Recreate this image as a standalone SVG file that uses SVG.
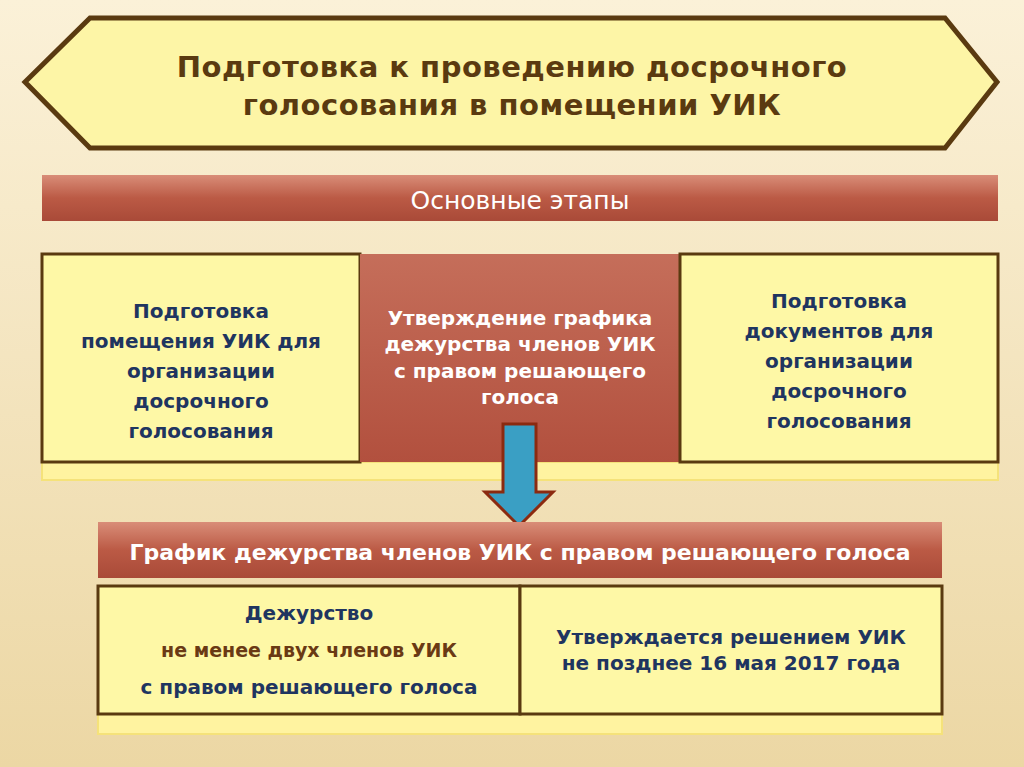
<svg xmlns="http://www.w3.org/2000/svg" width="1024" height="767" viewBox="0 0 1024 767">
<defs>
<linearGradient id="bg" x1="0" y1="0" x2="0" y2="1"><stop offset="0" stop-color="#fbf1d8"/><stop offset="1" stop-color="#ecd7a4"/></linearGradient>
<linearGradient id="red" x1="0" y1="0" x2="0" y2="1"><stop offset="0" stop-color="#d98d78"/><stop offset="0.5" stop-color="#bb5a45"/><stop offset="1" stop-color="#a94a38"/></linearGradient>
<linearGradient id="redv" x1="0" y1="0" x2="0" y2="1"><stop offset="0" stop-color="#c56e5a"/><stop offset="1" stop-color="#b2503e"/></linearGradient>
</defs>
<style>
.box{fill:#fef8a6;stroke:#5a3a10;stroke-width:3}
.strip{fill:#fff3a0;stroke:#f5e27a;stroke-width:2}
.t{font-family:"DejaVu Sans","Open Sans",sans-serif;font-weight:bold;text-anchor:middle}
.n{font-family:"DejaVu Sans","Open Sans",sans-serif;font-weight:normal;text-anchor:middle}
.blue{fill:#1f3560;font-size:20px}
.wh{fill:#ffffff}
</style>
<rect width="1024" height="767" fill="url(#bg)"/>
<g id="title">
<polygon points="25,82 90,18 945,18 997,82 945,148 90,148" fill="#fdf5a6" stroke="#5a3a10" stroke-width="5"/>
<text class="t" x="512" y="77" font-size="29" fill="#5a3a10" letter-spacing="0.5">Подготовка  к проведению досрочного</text>
<text class="t" x="512" y="115" font-size="29" fill="#5a3a10" letter-spacing="0.5">голосования в помещении УИК</text>
</g>
<g id="stages">
<rect x="42" y="175" width="956" height="46" fill="url(#red)"/>
<text class="n wh" x="520" y="209" font-size="25">Основные этапы</text>
</g>
<rect class="strip" x="42" y="462" width="956" height="18"/>
<g id="box1">
<rect class="box" x="42" y="254" width="318" height="208"/>
<text class="t blue" x="201" y="318">Подготовка</text>
<text class="t blue" x="201" y="348">помещения УИК для</text>
<text class="t blue" x="201" y="378">организации</text>
<text class="t blue" x="201" y="408">досрочного</text>
<text class="t blue" x="201" y="438">голосования</text>
</g>
<g id="box2">
<rect x="360" y="254" width="320" height="208" fill="url(#redv)"/>
<text class="t wh" x="520" y="325" font-size="20">Утверждение графика</text>
<text class="t wh" x="520" y="351" font-size="20">дежурства членов УИК</text>
<text class="t wh" x="520" y="378" font-size="20">с правом решающего</text>
<text class="t wh" x="520" y="404" font-size="20">голоса</text>
</g>
<g id="box3">
<rect class="box" x="680" y="254" width="318" height="208"/>
<text class="t blue" x="839" y="308">Подготовка</text>
<text class="t blue" x="839" y="338">документов для</text>
<text class="t blue" x="839" y="368">организации</text>
<text class="t blue" x="839" y="398">досрочного</text>
<text class="t blue" x="839" y="428">голосования</text>
</g>
<g id="connectors">
<polygon points="503,424 536,424 536,492 553,492 519,526 485,492 503,492" fill="#3a9fc4" stroke="#8b2a10" stroke-width="3"/>
</g>
<g id="schedule">
<rect x="98" y="522" width="844" height="56" fill="url(#red)"/>
<text class="t wh" x="520" y="560" font-size="22">График дежурства членов УИК  с правом решающего голоса</text>
</g>
<rect class="strip" x="98" y="714" width="844" height="20"/>
<g id="box4">
<rect class="box" x="98" y="586" width="422" height="128"/>
<text class="t blue" x="309" y="620">Дежурство</text>
<text class="t" x="309" y="657" font-size="19" fill="#6a3a14">не менее двух членов УИК</text>
<text class="t blue" x="309" y="694">с правом решающего голоса</text>
</g>
<g id="box5">
<rect class="box" x="520" y="586" width="422" height="128"/>
<text class="t blue" x="731" y="644">Утверждается решением УИК</text>
<text class="t blue" x="731" y="670">не позднее 16 мая 2017 года</text>
</g>
</svg>
